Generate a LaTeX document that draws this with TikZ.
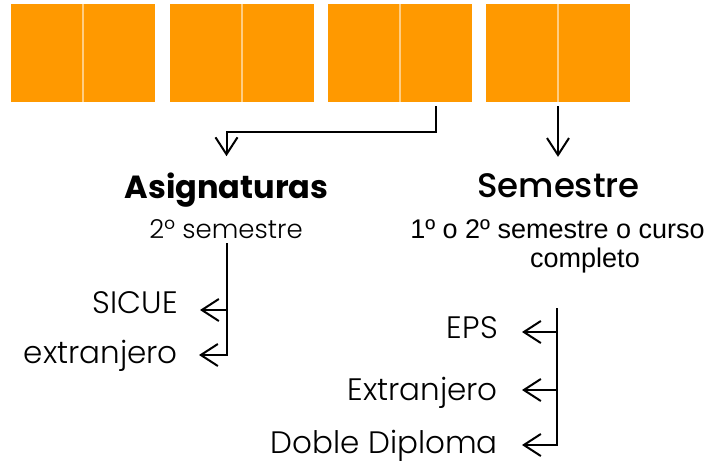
\documentclass[tikz,border=0pt]{standalone}
\usepackage{fontspec}
\setsansfont{Poppins}
\newfontfamily\thinfont{Poppins Light}
\newfontfamily\midfont{Poppins Medium}
\newfontfamily\arialfont{Liberation Sans}
\usetikzlibrary{arrows.meta,calc,positioning}
\definecolor{boxorange}{RGB}{255,153,0}
\definecolor{boxline}{RGB}{255,205,130}

\begin{document}
\begin{tikzpicture}[x=1pt,y=-1pt]
    \tikzstyle{half}=[rectangle,fill=boxorange,minimum width=72pt,minimum height=98pt,inner sep=0pt,outer sep=0pt]
    \tikzstyle{split}=[boxline,line width=1.5pt]
    \tikzstyle{title}=[font=\sffamily\bfseries\fontsize{32}{38}\selectfont,inner sep=0pt]
    \tikzstyle{thin}=[font=\thinfont\fontsize{31}{36}\selectfont,inner sep=0pt]
    \tikzstyle{note}=[font=\arialfont\fontsize{27}{32}\selectfont,inner sep=0pt]
    \tikzstyle{wire}=[line width=2pt,-{Straight Barb[length=17pt,width=22pt]}]

    \useasboundingbox (0,0) rectangle (713,467);

    % orange blocks
    \foreach \i/\x in {1/11,2/170,3/328,4/486} {
        \node[half,anchor=north west] (b\i l) at (\x,4) {};
        \node[half,anchor=north west] (b\i r) at (\x+72,4) {};
        \draw[split] (b\i l.north east) -- (b\i l.south east);
    }

    \node[title,anchor=base] (asig) at (226.5,198) {Asignaturas};
    \node[thin,anchor=base,font=\thinfont\fontsize{26}{32}\selectfont] (asigsub) at (226,238) {2º semestre};
    \node[title,anchor=base,font=\midfont\fontsize{34}{40}\selectfont] (sem) at (558.5,197) {Semestre};
    \node[note,anchor=base] (semsub) at (557.5,238) {1º o 2º semestre o curso};
    \node[note,anchor=base] (semsub2) at (585,267) {completo};

    \node[thin,anchor=base east] (sicue) at (178,313) {SICUE};
    \node[thin,anchor=base east] (ext1) at (178,363) {extranjero};
    \node[thin,anchor=base east] (eps) at (498,338) {EPS};
    \node[thin,anchor=base east] (ext2) at (498,400) {Extranjero};
    \node[thin,anchor=base east] (doble) at (498,453) {Doble Diploma};

    \draw[wire] ([yshift=-4pt]b3r.south) -- ++(0,26) -| ($(asig.north)+(0,-16)$);
    \draw[wire] ([yshift=-4pt]b4r.south west) -- ($(b4r.south west |- sem.north)+(0,-16)$);

    \coordinate (lt) at (227,243);
    \draw[wire] (lt) |- ($(sicue.base east)+(22,-3)$);
    \draw[wire] (lt) |- ($(ext1.base east)+(21,-8)$);

    \coordinate (rt) at (557,308);
    \draw[wire] (rt) |- ($(eps.base east)+(24,-6)$);
    \draw[wire] (rt) |- ($(ext2.base east)+(24,-10)$);
    \draw[wire] (rt) |- ($(doble.base east)+(24,-8)$);
\end{tikzpicture}
\end{document}
